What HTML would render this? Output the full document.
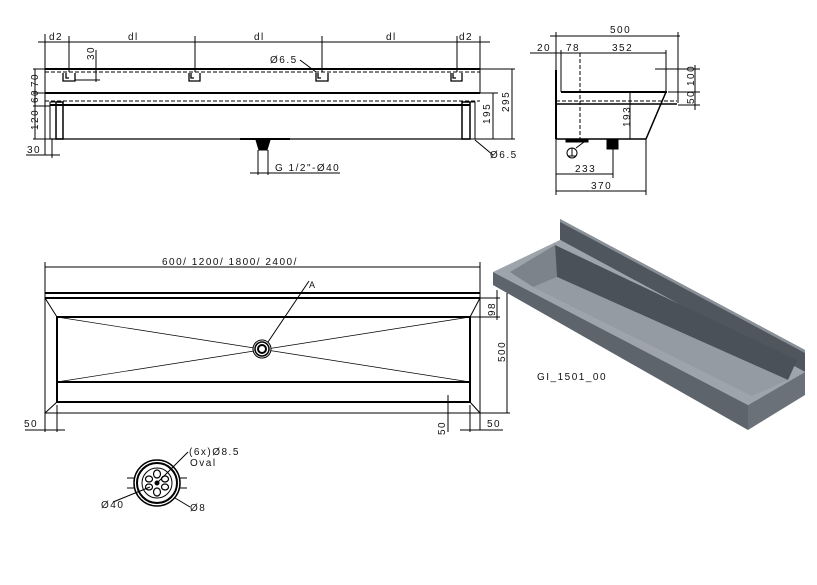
<!DOCTYPE html>
<html><head><meta charset="utf-8"><style>
html,body{margin:0;padding:0;background:#fff;}
svg{display:block;}
text{font-family:"Liberation Sans",sans-serif;font-size:10px;fill:#111;letter-spacing:1.5px;}
</style></head><body>
<svg width="817" height="585" viewBox="0 0 817 585" xmlns="http://www.w3.org/2000/svg">
<g stroke="#000" fill="none" stroke-width="1">
<!-- FRONT VIEW -->
<line x1="38" y1="42" x2="490" y2="42"/>
<line x1="45" y1="34" x2="45" y2="155"/>
<line x1="69" y1="36" x2="69" y2="72"/>
<line x1="195" y1="36" x2="195" y2="72"/>
<line x1="322" y1="36" x2="322" y2="72"/>
<line x1="457" y1="36" x2="457" y2="72"/>
<line x1="480" y1="36" x2="480" y2="93"/>
<line x1="45" y1="69" x2="480" y2="69" stroke-width="2"/>
<line x1="45" y1="72" x2="480" y2="72" stroke-dasharray="4,2"/>
<line x1="45" y1="93" x2="480" y2="93" stroke-width="2"/>
<line x1="45" y1="101" x2="480" y2="101" stroke-dasharray="4,2"/>
<line x1="50" y1="105" x2="470" y2="105" stroke-width="2"/>
<line x1="50" y1="139" x2="470" y2="139" stroke-width="1.2"/>
<rect x="50" y="102" width="13" height="37"/><rect x="56" y="102" width="7" height="37" stroke-width="1.5"/>
<rect x="462" y="102" width="8" height="37" stroke-width="1.5"/><rect x="462" y="102" width="13" height="37"/>
<g stroke-width="1.3">
<path d="M63 73v8h12v-8M66 73v5h3"/><path d="M189 73v8h11v-8M191 73v5h3"/>
<path d="M316 73v8h12v-8M318 73v5h3"/><path d="M451 73v8h11v-8M453 73v5h3"/>
</g>
<line x1="96" y1="50" x2="96" y2="82"/><line x1="75" y1="80" x2="100" y2="80"/>
<line x1="35" y1="69" x2="35" y2="139"/>
<line x1="33" y1="69" x2="45" y2="69"/><line x1="33" y1="93" x2="45" y2="93"/><line x1="33" y1="106" x2="50" y2="106"/><line x1="33" y1="139" x2="50" y2="139"/>
<line x1="52" y1="139" x2="52" y2="158"/><line x1="26" y1="155" x2="60" y2="155"/>
<line x1="470" y1="93" x2="498" y2="93"/><line x1="480" y1="69" x2="515" y2="69"/>
<line x1="470" y1="139" x2="515" y2="139"/>
<line x1="493" y1="93" x2="493" y2="139"/><line x1="512" y1="69" x2="512" y2="139"/>
<line x1="475" y1="140" x2="493" y2="155"/>
<line x1="300" y1="60" x2="316" y2="72"/>
<line x1="240" y1="139" x2="290" y2="139" stroke-width="2"/>
<path d="M256 140h14l-3 10h-8z" fill="#000"/>
<line x1="258" y1="150" x2="258" y2="175"/><line x1="268" y1="150" x2="268" y2="175"/>
<line x1="250" y1="173" x2="340" y2="173"/>
<!-- SIDE VIEW -->
<line x1="550" y1="36" x2="680" y2="36"/>
<line x1="530" y1="53" x2="666" y2="53"/>
<line x1="556" y1="32" x2="556" y2="195"/>
<line x1="678" y1="32" x2="678" y2="103"/>
<line x1="561" y1="50" x2="561" y2="92"/>
<line x1="666" y1="50" x2="666" y2="92"/>
<line x1="561" y1="92" x2="667" y2="92" stroke-width="2"/>
<line x1="580" y1="53" x2="580" y2="139" stroke-dasharray="4,2"/>
<line x1="556" y1="101" x2="677" y2="101" stroke-dasharray="4,2"/>
<line x1="556" y1="104" x2="677" y2="104" stroke-width="1.5"/>
<line x1="666" y1="92" x2="646" y2="139" stroke-width="1.5"/>
<line x1="556" y1="139" x2="646" y2="139" stroke-width="1.5"/>
<line x1="556" y1="70" x2="556" y2="139" stroke-width="2"/>
<line x1="630" y1="93" x2="630" y2="139"/>
<line x1="655" y1="69" x2="700" y2="69"/><line x1="668" y1="92" x2="700" y2="92"/><line x1="678" y1="105" x2="700" y2="105"/>
<line x1="695" y1="65" x2="695" y2="110"/>
<rect x="566" y="139" width="22" height="3" fill="#000"/>
<rect x="607" y="140" width="11" height="9" fill="#000"/>
<line x1="613" y1="139" x2="613" y2="178"/><line x1="646" y1="139" x2="646" y2="195"/>
<line x1="556" y1="174" x2="613" y2="174"/><line x1="556" y1="191" x2="646" y2="191"/>
<circle cx="572" cy="153" r="5"/><line x1="568" y1="156" x2="576" y2="156"/><line x1="572" y1="148" x2="572" y2="156"/><line x1="576" y1="148" x2="584" y2="142"/>
<!-- TOP VIEW -->
<line x1="45" y1="267" x2="480" y2="267"/>
<line x1="45" y1="262" x2="45" y2="432"/><line x1="480" y1="262" x2="480" y2="430"/>
<line x1="45" y1="293" x2="480" y2="293" stroke-width="2"/>
<line x1="45" y1="298" x2="480" y2="298" stroke-width="2"/>
<line x1="45" y1="413" x2="480" y2="413"/>
<rect x="57" y="317" width="413" height="85" stroke-width="2"/>
<line x1="57" y1="382" x2="470" y2="382" stroke-width="2"/>
<line x1="45" y1="298" x2="57" y2="317"/><line x1="480" y1="298" x2="470" y2="317"/>
<line x1="45" y1="413" x2="57" y2="402"/><line x1="480" y1="413" x2="470" y2="402"/>
<line x1="57" y1="317" x2="470" y2="382" stroke-width="0.7"/><line x1="57" y1="382" x2="470" y2="317" stroke-width="0.7"/>
<circle cx="262" cy="349" r="9" fill="#fff"/><circle cx="262" cy="349" r="7" stroke-width="1.5"/><circle cx="262" cy="349" r="4" stroke-width="2"/>
<line x1="268" y1="342" x2="309" y2="281"/>
<line x1="480" y1="298" x2="500" y2="298"/><line x1="470" y1="317" x2="500" y2="317"/><line x1="480" y1="413" x2="510" y2="413"/>
<line x1="497" y1="290" x2="497" y2="320"/><line x1="507" y1="293" x2="507" y2="413"/>
<line x1="57" y1="405" x2="57" y2="432"/><line x1="25" y1="430" x2="65" y2="430"/>
<line x1="470" y1="405" x2="470" y2="432"/><line x1="460" y1="430" x2="503" y2="430"/>
<line x1="448" y1="395" x2="448" y2="432"/>
<!-- DRAIN DETAIL -->
<circle cx="157" cy="483" r="23" stroke-width="1.5"/><circle cx="157" cy="483" r="20" stroke-width="2"/><circle cx="157" cy="483" r="15"/>
<g stroke-width="1.2">
<ellipse cx="157" cy="474" rx="3.5" ry="4"/><ellipse cx="157" cy="492" rx="3.5" ry="4"/>
<ellipse cx="149" cy="479" rx="3.5" ry="3"/><ellipse cx="165" cy="479" rx="3.5" ry="3"/>
<ellipse cx="149" cy="487" rx="3.5" ry="3"/><ellipse cx="165" cy="487" rx="3.5" ry="3"/>
</g>
<circle cx="157" cy="483" r="2" fill="#000"/>
<line x1="127" y1="478" x2="135" y2="478"/><line x1="127" y1="488" x2="135" y2="488"/>
<line x1="180" y1="478" x2="187" y2="478"/><line x1="180" y1="488" x2="187" y2="488"/>
<line x1="157" y1="483" x2="188" y2="452"/>
<line x1="113" y1="502" x2="150" y2="487"/>
<line x1="175" y1="498" x2="190" y2="507"/>
</g>
<!-- ISO VIEW -->
<g stroke="none">
<polygon points="560,219 805,350 805,372 560,240" fill="#4f565e"/>
<polygon points="560,219 805,350 805,353 560,222" fill="#8a9098"/>
<polygon points="493,272 560,240 805,372 748,405" fill="#9ea4ab"/>
<polygon points="493,272 748,405 748,430 493,285" fill="#5d646c"/>
<polygon points="748,405 805,372 805,395 748,430" fill="#6a7179"/>
<polygon points="510,272 555,245 557,277 533,287" fill="#7c838b"/>
<polygon points="555,245 797,360 788,380 557,277" fill="#4a5159"/>
<polygon points="533,287 557,277 788,380 752,396" fill="#959ba2"/>
</g>
<g>
<text x="49" y="40">d2</text><text x="128" y="40">dl</text><text x="254" y="40">dl</text><text x="386" y="40">dl</text><text x="459" y="40">d2</text>
<text x="270" y="63">Ø6.5</text>
<text transform="translate(94,60) rotate(-90)">30</text>
<text transform="translate(38,87) rotate(-90)">70</text>
<text transform="translate(38,103) rotate(-90)">60</text>
<text transform="translate(38,130) rotate(-90)">120</text>
<text x="27" y="153">30</text>
<text transform="translate(490,124) rotate(-90)">195</text>
<text transform="translate(509,112) rotate(-90)">295</text>
<text x="490" y="158">Ø6.5</text>
<text x="275" y="171">G 1/2"-Ø40</text>
<text x="610" y="33">500</text>
<text x="537" y="51">20</text><text x="566" y="51">78</text><text x="612" y="51">352</text>
<text transform="translate(694,86) rotate(-90)">100</text>
<text transform="translate(694,104) rotate(-90)">50</text>
<text transform="translate(630,127) rotate(-90)">193</text>
<text x="575" y="172">233</text><text x="591" y="189">370</text>
<text x="162" y="265">600/ 1200/ 1800/ 2400/</text>
<text x="309" y="288" style="font-size:9px">A</text>
<text transform="translate(495,316) rotate(-90)">98</text>
<text transform="translate(505,362) rotate(-90)">500</text>
<text x="24" y="427">50</text><text x="487" y="427">50</text>
<text transform="translate(445,435) rotate(-90)">50</text>
<text x="537" y="380">GI_1501_00</text>
<text x="189" y="455">(6x)Ø8.5</text><text x="190" y="466">Oval</text>
<text x="101" y="508">Ø40</text><text x="190" y="511">Ø8</text>
</g>
</svg>
</body></html>
